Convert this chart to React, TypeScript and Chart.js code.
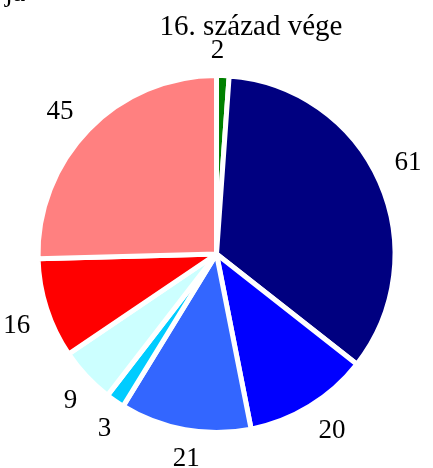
import React, { useEffect, useRef } from "react";
import { Chart, registerables } from "chart.js";

Chart.register(...registerables);

const TITLE = "16. század vége";
const CLIPPED_TEXT = "ja";
const categories = ["A", "B", "C", "D", "E", "F", "G", "H"];
const values = [2, 61, 20, 21, 3, 9, 16, 45];
const colors = ["#008000", "#000080", "#0000FF", "#3366FF", "#00CCFF", "#CCFFFF", "#FF0000", "#FF8080"];

const FONT = '"Liberation Serif", "Times New Roman", serif';

const labelPlugin = {
  id: "pieLabels",
  afterDraw(chart: any) {
    const ctx = chart.ctx;
    ctx.save();
    ctx.fillStyle = "#000";
    // clipped text at top-left
    ctx.font = `28px ${FONT}`;
    ctx.textAlign = "left";
    ctx.textBaseline = "alphabetic";
    ctx.fillText(CLIPPED_TEXT, 5, 1);
    // title
    ctx.font = `29px ${FONT}`;
    ctx.textAlign = "center";
    ctx.fillText(TITLE, 251, 35);
    // value labels
    ctx.font = `27px ${FONT}`;
    ctx.textBaseline = "middle";
    const meta = chart.getDatasetMeta(0);
    meta.data.forEach((arc: any, i: number) => {
      const { x, y, startAngle, endAngle, outerRadius } = arc.getProps(
        ["x", "y", "startAngle", "endAngle", "outerRadius"],
        true
      );
      const mid = (startAngle + endAngle) / 2 - 0.03;
      const text = String(values[i]);
      const w = ctx.measureText(text).width;
      const h = 18;
      const c = Math.cos(mid);
      const s = Math.sin(mid);
      const proj = (w / 2) * Math.abs(c) + (h / 2) * Math.abs(s);
      const d = outerRadius - 2.5 + 17 + proj * 1.2;
      ctx.fillText(text, x + c * d, y + s * d + 1);
    });
    ctx.restore();
  },
};

export default function App() {
  const ref = useRef<HTMLCanvasElement | null>(null);
  useEffect(() => {
    if (!ref.current) return;
    const chart = new Chart(ref.current, {
      type: "pie",
      data: {
        labels: categories,
        datasets: [
          {
            data: values,
            backgroundColor: colors,
            borderColor: "#FFFFFF",
            borderWidth: 5,
          },
        ],
      },
      options: {
        animation: false,
        responsive: false,
        maintainAspectRatio: false,
        radius: 178.5,
        layout: { padding: { top: 40, bottom: 0, left: 0, right: 0 } },
        plugins: {
          legend: { display: false },
          tooltip: { enabled: false },
          title: { display: false },
        },
      } as any,
      plugins: [labelPlugin],
    });
    return () => chart.destroy();
  }, []);
  return (
    <div style={{ position: "absolute", left: 0, top: 0, width: 433, height: 468, background: "#fff" }}>
      <canvas ref={ref} width={433} height={468} style={{ width: 433, height: 468 }} />
    </div>
  );
}
